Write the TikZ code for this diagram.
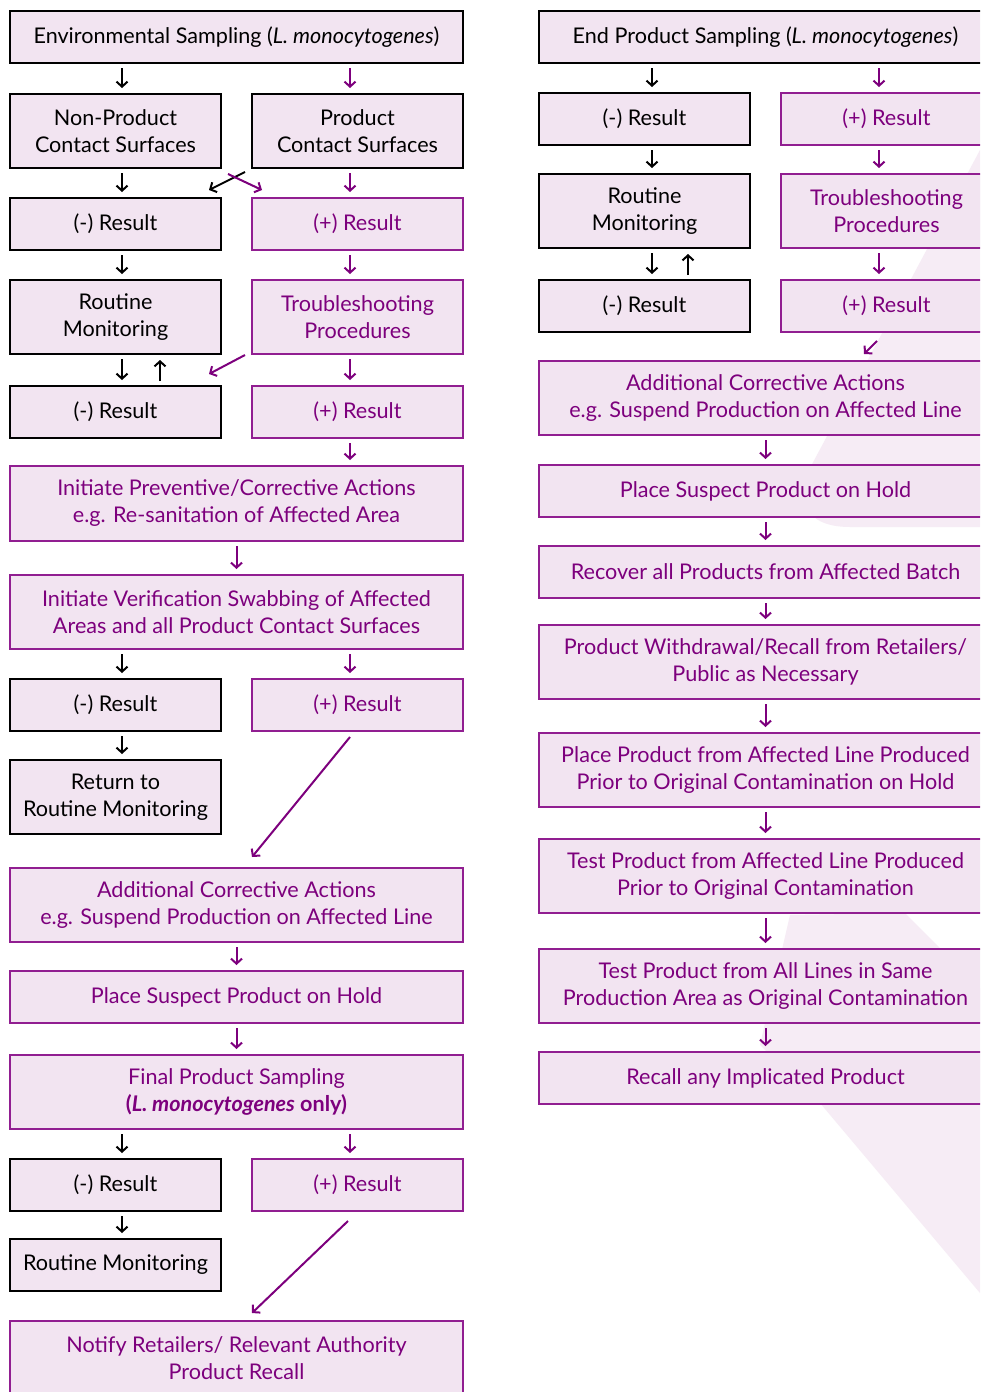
\documentclass[tikz,border=0pt]{standalone}
\usepackage{fontspec}
\setmainfont{Lato}
\usetikzlibrary{arrows.meta}
\definecolor{pfill}{RGB}{242,228,241}
\definecolor{ptext}{RGB}{125,0,125}
\definecolor{pline}{RGB}{145,30,145}
\definecolor{bgpink}{RGB}{246,236,245}
\tikzset{
 box/.style={draw=black, line width=2.8pt, fill=pfill, inner sep=0pt, outer sep=0pt, align=center, font=\fontsize{21.6}{27}\selectfont, text=black},
 pbox/.style={box, draw=pline, line width=1.6pt, text=ptext},
 barr/.style={draw=black, line width=2pt, -{Straight Barb[length=5pt,width=11pt]}, shorten <=5pt, shorten >=6pt},
 parr/.style={barr, draw=ptext},
 darr/.style={draw=ptext, line width=2pt, -{Straight Barb[length=5pt,width=11pt]}},
 bdarr/.style={darr, draw=black},
}
\newcommand{\bx}[7]{\node[#6, minimum width=#4-#2, minimum height=#5-#3] (#1) at ({(#2+#4)/2},{(#3+#5)/2}) {#7};}
\newcommand{\dar}[4]{\draw[#1] ([xshift=#4pt]#3.north |- #2.south) -- ([xshift=#4pt]#3.north);}
\begin{document}
\begin{tikzpicture}[x=1pt,y=-1pt]
\clip (0,0) rectangle (980,1392);
\fill[white] (0,0) rectangle (980,1392);
% background decoration
\fill[bgpink] (980,150) -- (810,468) .. controls (795,500) and (805,527) .. (850,527) -- (980,527) -- cycle;
\fill[bgpink] (790,915) -- (905,913) -- (980,988) -- (980,1293) -- (820,1103) -- (760,1045) -- cycle;
% left column
\bx{env}{10}{11}{463}{63}{box}{Environmental Sampling (\textit{L. monocytogenes})}
\bx{np}{10}{94}{221}{168}{box}{Non-Product\\Contact Surfaces}
\bx{pc}{252}{94}{463}{168}{box}{Product\\Contact Surfaces}
\bx{n1}{10}{198}{221}{250}{box}{(-) Result}
\bx{p1}{252}{198}{463}{250}{pbox}{(+) Result}
\bx{rm1}{10}{280}{221}{354}{box}{Routine\\Monitoring}
\bx{ts1}{252}{280}{463}{354}{pbox}{Troubleshooting\\Procedures}
\bx{n2}{10}{386}{221}{438}{box}{(-) Result}
\bx{p2}{252}{386}{463}{438}{pbox}{(+) Result}
\bx{ipc}{10}{466}{463}{541}{pbox}{Initiate Preventive/Corrective Actions\\e.g. Re-sanitation of Affected Area}
\bx{ivs}{10}{575}{463}{649}{pbox}{Initiate Verification Swabbing of Affected\\Areas and all Product Contact Surfaces}
\bx{n3}{10}{679}{221}{731}{box}{(-) Result}
\bx{p3}{252}{679}{463}{731}{pbox}{(+) Result}
\bx{ret}{10}{760}{221}{834}{box}{Return to\\Routine Monitoring}
\bx{add1}{10}{868}{463}{942}{pbox}{Additional Corrective Actions\\e.g. Suspend Production on Affected Line}
\bx{hold1}{10}{971}{463}{1023}{pbox}{Place Suspect Product on Hold}
\bx{fps}{10}{1055}{463}{1129}{pbox}{Final Product Sampling\\\textbf{(\textit{L. monocytogenes} only)}}
\bx{n4}{10}{1159}{221}{1211}{box}{(-) Result}
\bx{p4}{252}{1159}{463}{1211}{pbox}{(+) Result}
\bx{rm4}{10}{1239}{221}{1291}{box}{Routine Monitoring}
\bx{ntf}{10}{1321}{463}{1395}{pbox}{Notify Retailers/ Relevant Authority\\Product Recall}
% right column
\bx{eps}{539}{11}{992}{63}{box}{End Product Sampling (\textit{L. monocytogenes})}
\bx{rn1}{539}{93}{750}{145}{box}{(-) Result}
\bx{rp1}{781}{93}{992}{145}{pbox}{(+) Result}
\bx{rrm}{539}{174}{750}{248}{box}{Routine\\Monitoring}
\bx{rts}{781}{174}{992}{248}{pbox}{Troubleshooting\\Procedures}
\bx{rn2}{539}{280}{750}{332}{box}{(-) Result}
\bx{rp2}{781}{280}{992}{332}{pbox}{(+) Result}
\bx{radd}{539}{361}{992}{435}{pbox}{Additional Corrective Actions\\e.g. Suspend Production on Affected Line}
\bx{rhold}{539}{465}{992}{517}{pbox}{Place Suspect Product on Hold}
\bx{rrec}{539}{546}{992}{598}{pbox}{Recover all Products from Affected Batch}
\bx{rwd}{539}{625}{992}{699}{pbox}{Product Withdrawal/Recall from Retailers/\\Public as Necessary}
\bx{rplh}{539}{733}{992}{807}{pbox}{Place Product from Affected Line Produced\\Prior to Original Contamination on Hold}
\bx{rtp}{539}{839}{992}{913}{pbox}{Test Product from Affected Line Produced\\Prior to Original Contamination}
\bx{rta}{539}{949}{992}{1023}{pbox}{Test Product from All Lines in Same\\Production Area as Original Contamination}
\bx{rrc}{539}{1052}{992}{1104}{pbox}{Recall any Implicated Product}
% left arrows
\dar{barr}{env}{np}{6.5}
\dar{parr}{env}{pc}{-7.5}
\dar{barr}{np}{n1}{6.5}
\dar{parr}{pc}{p1}{-7.5}
\draw[bdarr] ([xshift=-7pt,yshift=-4pt]pc.south west) -- ([xshift=-12pt,yshift=8pt]n1.north east);
\draw[darr] ([xshift=7pt,yshift=-6pt]np.south east) -- ([xshift=10pt,yshift=8pt]p1.north west);
\dar{barr}{n1}{rm1}{6.5}
\dar{parr}{p1}{ts1}{-7.5}
\dar{barr}{rm1}{n2}{6.5}
\draw[barr] ([xshift=44.5pt]n2.north) -- ([xshift=44.5pt]rm1.south);
\draw[darr] ([xshift=-7pt,yshift=-1pt]ts1.south west) -- ([xshift=-12pt,yshift=12pt]n2.north east);
\dar{parr}{ts1}{p2}{-7.5}
\draw[parr] ([xshift=-7.5pt]p2.south) -- ([xshift=-7.5pt]p2.south |- ipc.north);
\dar{parr}{ipc}{ivs}{0}
\draw[barr] ([xshift=6.5pt]n3.north |- ivs.south) -- ([xshift=6.5pt]n3.north);
\draw[parr] ([xshift=-7.5pt]p3.north |- ivs.south) -- ([xshift=-7.5pt]p3.north);
\dar{barr}{n3}{ret}{6.5}
\draw[darr] ([xshift=-7.5pt,yshift=-6pt]p3.south) -- ([xshift=15.5pt,yshift=11pt]add1.north);
\dar{parr}{add1}{hold1}{0}
\dar{parr}{hold1}{fps}{0}
\draw[barr] ([xshift=6.5pt]n4.north |- fps.south) -- ([xshift=6.5pt]n4.north);
\draw[parr] ([xshift=-7.5pt]p4.north |- fps.south) -- ([xshift=-7.5pt]p4.north);
\dar{barr}{n4}{rm4}{6.5}
\draw[darr] ([xshift=-9.5pt,yshift=-10pt]p4.south) -- ([xshift=15.5pt,yshift=8pt]ntf.north);
% right arrows
\draw[barr] ([xshift=7.5pt]rn1.north |- eps.south) -- ([xshift=7.5pt]rn1.north);
\draw[parr] ([xshift=-7.5pt]rp1.north |- eps.south) -- ([xshift=-7.5pt]rp1.north);
\dar{barr}{rn1}{rrm}{7.5}
\dar{parr}{rp1}{rts}{-7.5}
\dar{barr}{rrm}{rn2}{7.5}
\draw[barr] ([xshift=43.5pt]rn2.north) -- ([xshift=43.5pt]rrm.south);
\dar{parr}{rts}{rp2}{-7.5}
\draw[darr] ([xshift=-9.5pt,yshift=-9pt]rp2.south) -- ([xshift=98.5pt,yshift=7pt]radd.north);
\dar{parr}{radd}{rhold}{0}
\dar{parr}{rhold}{rrec}{0}
\dar{parr}{rrec}{rwd}{0}
\dar{parr}{rwd}{rplh}{0}
\dar{parr}{rplh}{rtp}{0}
\dar{parr}{rtp}{rta}{0}
\dar{parr}{rta}{rrc}{0}
\end{tikzpicture}
\end{document}
